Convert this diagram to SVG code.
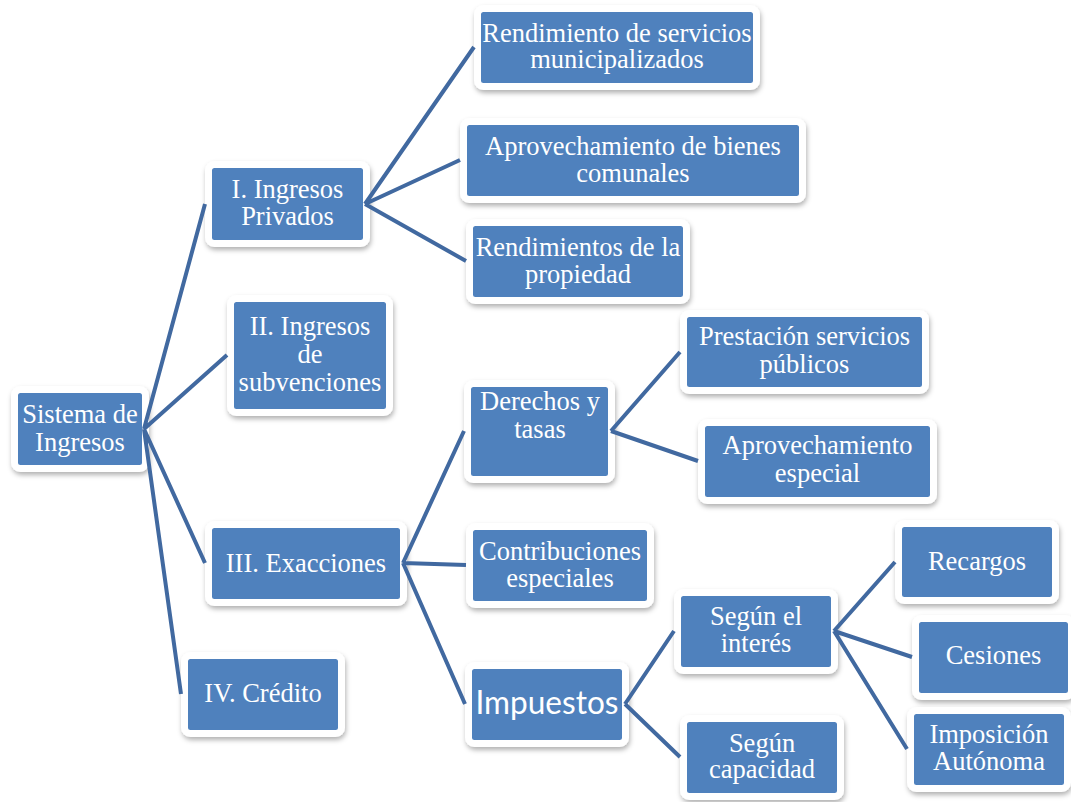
<svg xmlns="http://www.w3.org/2000/svg" width="1071" height="802" viewBox="0 0 1071 802">
<defs>
<filter id="sh" x="-20%" y="-30%" width="140%" height="170%">
<feDropShadow dx="1" dy="3" stdDeviation="2.5" flood-color="#000" flood-opacity="0.3"/>
</filter>
<style>
.box{fill:#4F81BD;stroke:#FFFFFF;stroke-width:7;filter:url(#sh);}
.t{font-family:"Liberation Serif","Times New Roman",serif;font-size:26.5px;fill:#FFFFFF;text-anchor:middle;}
.s{font-family:Lato,"Liberation Sans",sans-serif;font-size:32px;fill:#FFFFFF;text-anchor:middle;}
.c{stroke:#4169A0;stroke-width:4;fill:none;stroke-linecap:butt;}
</style>
</defs>
<rect width="1071" height="802" fill="#FFFFFF"/>
<g id="nodes">
<g id="sistema"><rect class="box" x="14.5" y="389.5" width="131" height="79" rx="6"/><text class="t" x="80" y="423">Sistema de</text><text class="t" x="80" y="451">Ingresos</text></g>
<g id="ing_priv"><rect class="box" x="208.5" y="164.5" width="158" height="79" rx="6"/><text class="t" x="287.5" y="198">I. Ingresos</text><text class="t" x="287.5" y="225">Privados</text></g>
<g id="ing_subv"><rect class="box" x="230.5" y="298.5" width="159" height="114" rx="6"/><text class="t" x="310" y="335">II. Ingresos</text><text class="t" x="310" y="363">de</text><text class="t" x="310" y="391">subvenciones</text></g>
<g id="exacciones"><rect class="box" x="208.5" y="524.5" width="195" height="78" rx="6"/><text class="t" x="306" y="572">III. Exacciones</text></g>
<g id="credito"><rect class="box" x="184.5" y="655.5" width="157" height="78" rx="6"/><text class="t" x="263" y="702">IV. Crédito</text></g>
<g id="rend_serv"><rect class="box" x="477.5" y="8.5" width="279" height="78" rx="6"/><text class="t" x="617" y="42">Rendimiento de servicios</text><text class="t" x="617" y="68">municipalizados</text></g>
<g id="aprov_bienes"><rect class="box" x="463.5" y="121.5" width="339" height="78" rx="6"/><text class="t" x="633" y="155">Aprovechamiento de bienes</text><text class="t" x="633" y="182">comunales</text></g>
<g id="rend_prop"><rect class="box" x="469.5" y="222.5" width="217" height="78" rx="6"/><text class="t" x="578" y="256">Rendimientos de la</text><text class="t" x="578" y="283">propiedad</text></g>
<g id="derechos"><rect class="box" x="467.5" y="383.5" width="144" height="96" rx="6"/><text class="t" x="540" y="410">Derechos y</text><text class="t" x="540" y="438">tasas</text></g>
<g id="contrib"><rect class="box" x="469.5" y="526.5" width="181" height="78" rx="6"/><text class="t" x="560" y="560">Contribuciones</text><text class="t" x="560" y="587">especiales</text></g>
<g id="impuestos"><rect class="box" x="468.5" y="665.5" width="157" height="78" rx="6"/><text class="s" x="547" y="714" textLength="143" lengthAdjust="spacingAndGlyphs">Impuestos</text></g>
<g id="prestacion"><rect class="box" x="683.5" y="313.5" width="242" height="77" rx="6"/><text class="t" x="804.5" y="345">Prestación servicios</text><text class="t" x="804.5" y="373">públicos</text></g>
<g id="aprov_esp"><rect class="box" x="701.5" y="422.5" width="232" height="78" rx="6"/><text class="t" x="817.5" y="454">Aprovechamiento</text><text class="t" x="817.5" y="482">especial</text></g>
<g id="segun_int"><rect class="box" x="677.5" y="592.5" width="157" height="78" rx="6"/><text class="t" x="756" y="625">Según el</text><text class="t" x="756" y="652">interés</text></g>
<g id="segun_cap"><rect class="box" x="683.5" y="718.5" width="157" height="78" rx="6"/><text class="t" x="762" y="752">Según</text><text class="t" x="762" y="778">capacidad</text></g>
<g id="recargos"><rect class="box" x="898.5" y="523.5" width="157" height="77" rx="6"/><text class="t" x="977" y="570">Recargos</text></g>
<g id="cesiones"><rect class="box" x="915.5" y="618.5" width="156" height="78" rx="6"/><text class="t" x="993.5" y="664">Cesiones</text></g>
<g id="imposicion"><rect class="box" x="910.5" y="710.5" width="157" height="78" rx="6"/><text class="t" x="989" y="743">Imposición</text><text class="t" x="989" y="770">Autónoma</text></g>
</g>
<g id="connectors">
<path class="c" d="M144,429 L205,204 M144,429 L227,355 M144,429 L205,563 M144,429 L181,694"/>
<path class="c" d="M365,204 L474,47 M365,204 L460,160 M365,204 L466,261"/>
<path class="c" d="M403,563 L464,431 M403,563 L466,565 M403,563 L465,704"/>
<path class="c" d="M611,431 L680,352 M611,431 L698,461"/>
<path class="c" d="M625,704 L674,631 M625,704 L680,757"/>
<path class="c" d="M834,631 L895,562 M834,631 L912,657 M834,631 L907,749"/>
</g>
</svg>
